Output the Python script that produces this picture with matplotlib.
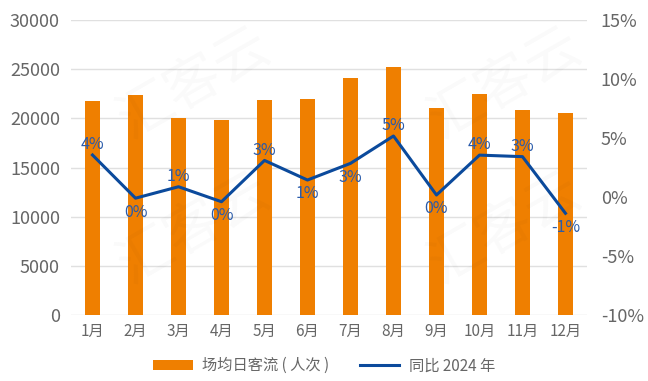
import matplotlib.pyplot as plt
from matplotlib.ticker import FuncFormatter

plt.rcParams['font.family'] = ['Noto Sans CJK SC', 'DejaVu Sans']

months = ['1月', '2月', '3月', '4月', '5月', '6月', '7月', '8月', '9月', '10月', '11月', '12月']
daily_flow = [21800, 22400, 20050, 19800, 21900, 22000, 24150, 25200, 21050, 22450, 20850, 20500]
yoy_pct = [3.56, -0.1, 0.87, -0.4, 3.1, 1.44, 2.85, 5.17, 0.17, 3.55, 3.42, -1.38]
label_above = [True, False, True, False, True, False, False, True, False, True, True, False]

bar_color = '#EF7F00'
line_color = '#0B4A9C'
text_color = '#666666'

fig = plt.figure(figsize=(6.48, 3.81), dpi=100)
ax = fig.add_axes([0.1096, 0.1732, 0.7962, 0.7743])
ax2 = ax.twinx()

# faint watermark tiles
for wx, wy in [(0.30, 0.78), (0.78, 0.78), (0.30, 0.40), (0.78, 0.40)]:
    fig.text(wx, wy, '汇客云', fontsize=40, color='#000000', alpha=0.025,
             rotation=30, ha='center', va='center', zorder=0)

x = range(len(months))
ax.bar(x, daily_flow, width=0.33, color=bar_color, zorder=2, label='场均日客流（人次）')
ax.set_ylim(0, 30000)
ax.set_yticks(range(0, 30001, 5000))
ax.set_xlim(-0.5, len(months) - 0.5)
ax.set_xticks(list(x))
ax.set_xticklabels(months)
ax.grid(axis='y', color='#E0E0E0', linewidth=1, zorder=0)
ax.set_axisbelow(True)

ax2.plot(x, yoy_pct, color=line_color, linewidth=2.2, zorder=3, label='同比 2024 年')
ax2.set_ylim(-10, 15)
ax2.set_yticks(range(-10, 16, 5))
ax2.yaxis.set_major_formatter(FuncFormatter(lambda v, p: f'{v:.0f}%'))

for i, v in enumerate(yoy_pct):
    off = 7.5 if label_above[i] else -10
    ax2.annotate(f'{round(v):.0f}%', (i, v), xytext=(0, off), textcoords='offset points',
                 ha='center', va='center', fontsize=11.5, color='#2A5BAA')

for a in (ax, ax2):
    for s in a.spines.values():
        s.set_visible(False)
    a.tick_params(length=0, colors=text_color)

ax.tick_params(axis='y', labelsize=13, pad=8)
ax2.tick_params(axis='y', labelsize=13, pad=10)
ax.tick_params(axis='x', labelsize=11, pad=6)

h1, l1 = ax.get_legend_handles_labels()
h2, l2 = ax2.get_legend_handles_labels()
fig.legend(h1 + h2, ['场均日客流 ( 人次 )', '同比 2024 年'], loc='center', bbox_to_anchor=(0.5, 0.04),
           ncol=2, frameon=False, fontsize=11, labelcolor=text_color, handlelength=2.6,
           columnspacing=2.0, handletextpad=0.6)

fig.savefig('out.png', dpi=100)
